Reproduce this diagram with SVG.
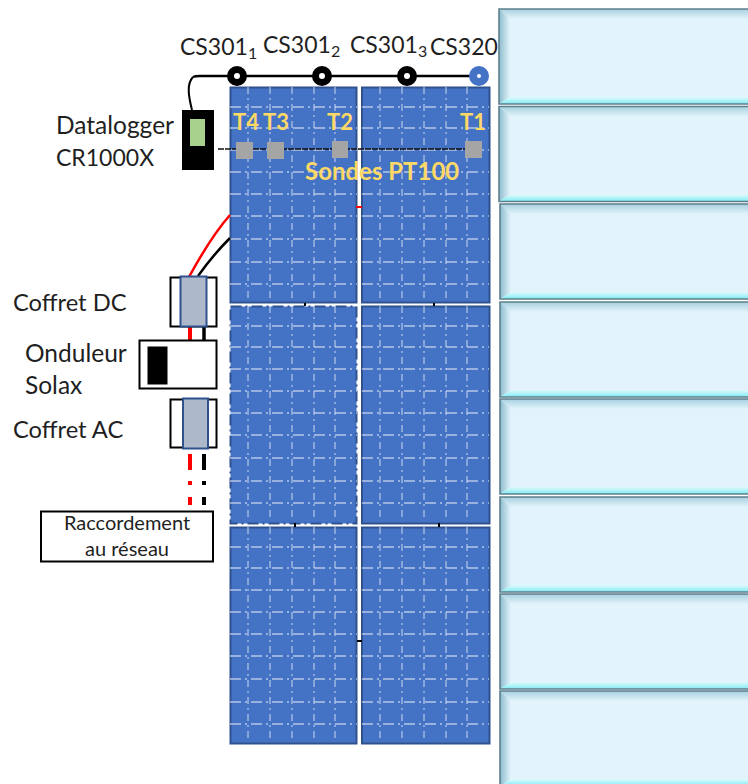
<svg xmlns="http://www.w3.org/2000/svg" width="748" height="784" viewBox="0 0 748 784">
<style>
text{font-family:Lato,"Liberation Sans",sans-serif;fill:#1f1f1f}
.lbl{font-size:24.500px}
.lbl2{font-size:23.700px}
.lbl3{font-size:23px}
.cslbl{font-size:23px}
.sub{font-size:16px}
.small{font-size:20px;text-anchor:middle}
text.y{fill:#ffd966;font-size:22px;font-weight:700}
text.y2{fill:#ffd966;font-size:24px;font-weight:700}
.panel{fill:#4472c4;stroke:#2f528f;stroke-width:2}
.gh{stroke:#fff;stroke-width:1.100;stroke-dasharray:11 4 2 4;fill:none;opacity:.9}
.gv{stroke:#d3e0f5;stroke-width:1.100;stroke-dasharray:7 4 2 4;fill:none;opacity:.85}
.probe{fill:#a5a5a5}
.box{fill:#fff;stroke:#000;stroke-width:2}
.gray{fill:#adb9ca;stroke:#2f528f;stroke-width:2}
.cs{fill:#fff;stroke:#000;stroke-width:7}
</style>
<defs>
<linearGradient id="t" x1="0" y1="0" x2="0" y2="1"><stop offset="0" stop-color="#a6d0df"/><stop offset="1" stop-color="#e2f3fb"/></linearGradient>
<linearGradient id="l" x1="0" y1="0" x2="1" y2="0"><stop offset="0" stop-color="#8dbccd"/><stop offset="1" stop-color="#e2f3fb"/></linearGradient>
<linearGradient id="b" x1="0" y1="0" x2="0" y2="1"><stop offset="0" stop-color="#e0fbfc"/><stop offset="1" stop-color="#7feaf4"/></linearGradient>
<g id="bevel">
<rect x="0" y="0" width="250" height="95" fill="#e2f3fb"/>
<polygon points="0,0 250,0 250,10 11,10" fill="url(#t)"/>
<polygon points="0,0 11,10 11,88 0,95" fill="url(#l)"/>
<polygon points="0,95 11,88 250,88 250,95" fill="url(#b)"/>
<path d="M250,0H0V95H250" fill="none" stroke="#5d7f8c" stroke-width="1.600"/>
</g>
<g id="grid">
<path class="gh" d="M0,20H127M0,41H127M0,63H127M0,85H127M0,107H127M0,129H127M0,152H127M0,175H127M0,197H127"/>
<path class="gv" d="M18,0V214M40,0V214M62,0V214M84,0V214M105,0V214"/>
</g>
</defs>

<g id="panel-1"><rect class="panel" x="230.500" y="87.500" width="126" height="215"/><use href="#grid" x="230" y="87"/></g>
<g id="panel-2"><rect class="panel" x="362" y="87.500" width="127.500" height="215"/><use href="#grid" x="362" y="87"/></g>
<g id="panel-3"><rect x="230.500" y="306.500" width="126" height="217" fill="#4472c4" stroke="#2f528f" stroke-width="2" stroke-dasharray="11 4 2 4"/><use href="#grid" x="230" y="306"/></g>
<g id="panel-4"><rect class="panel" x="362" y="306.500" width="127.500" height="217"/><use href="#grid" x="362" y="306"/></g>
<g id="panel-5"><rect class="panel" x="230.500" y="527.500" width="126" height="216"/><use href="#grid" x="230" y="527"/></g>
<g id="panel-6"><rect class="panel" x="362" y="527.500" width="127.500" height="216"/><use href="#grid" x="362" y="527"/></g>

<g id="connectors" fill="none">
<path d="M193,77 C195,76 198,76 200,76 H479" stroke="#000" stroke-width="2.500"/>
<path d="M193,77 C186,84 189,98 192,110" stroke="#000" stroke-width="2"/>
<path d="M189,277 C201,255 215,232 230,215" stroke="#ff0000" stroke-width="2.500"/>
<path d="M198,276 C208,262 220,248 230,238" stroke="#000" stroke-width="2.500"/>
<path d="M356,207 H362" stroke="#ff0000" stroke-width="2"/>
<path d="M190,327 V340" stroke="#ff0000" stroke-width="4"/>
<path d="M204,327 V340" stroke="#000" stroke-width="3.500"/>
<path d="M190,454 V470 M190,481 V485 M190,497 V505" stroke="#ff0000" stroke-width="4"/>
<path d="M204,454 V470 M204,481 V485 M204,497 V505" stroke="#000" stroke-width="4"/>
<path d="M218,149 H473" stroke="#111" stroke-width="1.400" stroke-dasharray="6 1"/>
<path d="M305,303 V306 M434,303 V306 M295,523 V527 M439,523 V527" stroke="#000" stroke-width="2"/>
<path d="M357,641 H362" stroke="#000" stroke-width="2"/>
</g>

<g id="right-boxes">
<use href="#bevel" x="499" y="9"/>
<use href="#bevel" x="499" y="106.500"/>
<use href="#bevel" x="500" y="204"/>
<use href="#bevel" x="500" y="302"/>
<use href="#bevel" x="500" y="399"/>
<use href="#bevel" x="500" y="497"/>
<use href="#bevel" x="500" y="594"/>
<use href="#bevel" x="500" y="691"/>
</g>

<g id="cs301-1"><circle class="cs" cx="237" cy="76" r="6.500"/><text class="cslbl" x="180" y="55">CS301<tspan class="sub" dy="4">1</tspan></text></g>
<g id="cs301-2"><circle class="cs" cx="322" cy="76" r="6.500"/><text class="cslbl" x="263" y="53">CS301<tspan class="sub" dy="4">2</tspan></text></g>
<g id="cs301-3"><circle class="cs" cx="407" cy="76" r="6.500"/><text class="cslbl" x="350" y="53">CS301<tspan class="sub" dy="4">3</tspan></text></g>
<g id="cs320"><circle cx="479" cy="76" r="6" fill="#fff" stroke="#4472c4" stroke-width="8"/><text class="cslbl" x="430" y="55">CS320</text></g>

<g id="datalogger">
<rect x="182" y="110" width="32" height="60" fill="#000"/>
<rect x="190" y="119" width="15" height="27" fill="#a9d18e"/>
<text class="lbl" x="56" y="134">Datalogger</text>
<text class="lbl3" x="56" y="166">CR1000X</text>
</g>

<g id="t1"><rect class="probe" x="465" y="141" width="17" height="17"/><text class="y" x="460" y="130">T1</text></g>
<g id="t2"><rect class="probe" x="332" y="141" width="16" height="17"/><text class="y" x="327" y="130">T2</text></g>
<g id="t3"><rect class="probe" x="267" y="142" width="17" height="17"/><text class="y" x="263" y="130">T3</text></g>
<g id="t4"><rect class="probe" x="236" y="142" width="17" height="17"/><text class="y" x="233" y="130">T4</text></g>
<text class="y2" x="305" y="180">Sondes PT100</text>

<g id="coffret-dc">
<rect class="box" x="170.500" y="277.500" width="46" height="49"/>
<rect class="gray" x="180.500" y="276.500" width="26" height="50"/>
<text class="lbl2" x="13" y="311">Coffret DC</text>
</g>
<g id="onduleur">
<rect class="box" x="139.500" y="340.500" width="77" height="48"/>
<rect x="148" y="347" width="19" height="37" fill="#000" stroke="#000" stroke-width="1"/>
<text class="lbl" x="25" y="362">Onduleur</text>
<text class="lbl" x="25" y="394">Solax</text>
</g>
<g id="coffret-ac">
<rect class="box" x="170.500" y="399.500" width="46" height="48"/>
<rect class="gray" x="183" y="398.500" width="25" height="50"/>
<text class="lbl2" x="13" y="438">Coffret AC</text>
</g>
<g id="raccordement">
<rect class="box" x="41" y="511.500" width="172" height="50"/>
<text class="small" x="127" y="530">Raccordement</text>
<text class="small" x="127" y="556">au réseau</text>
</g>
</svg>
